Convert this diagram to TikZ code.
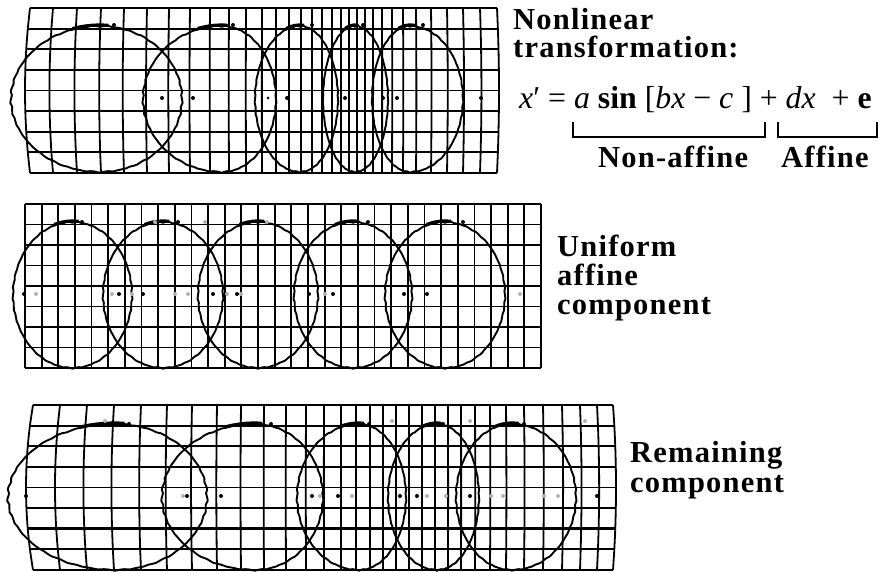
\documentclass[tikz,border=0pt]{standalone}
\usepackage{fontspec}
\setmainfont{Liberation Serif}
\newfontfamily\lblfont{Liberation Serif}[LetterSpace=4]
\usepackage{tikz}
\tikzset{
  gridline/.style={line width=1.8pt},
  thickrow/.style={line width=2.6pt},
  ring/.style={line width=1.9pt},
  topmark/.style={line width=3.2pt},
  dot/.style={circle, fill=black, minimum size=4pt, inner sep=0pt},
  greydot/.style={circle, fill=gray!60, minimum size=4pt, inner sep=0pt},
  lbl/.style={font=\lblfont\bfseries\fontsize{30.5}{30}\selectfont, anchor=base west, inner sep=0pt},
  eqn/.style={font=\fontsize{31.8}{32}\selectfont, anchor=base west, inner sep=0pt},
  brace/.style={line width=2.8pt}
}
% wobbly egg: left x, top x, right x, centre y, y radius
\newcommand{\eggring}[5]{%
  \draw[ring] plot[variable=\t, domain=0:357, samples=120, smooth cycle]
    ({#2+ifthenelse(cos(\t)<0,#2-#1,#3-#2)*cos(\t)*(1+0.006*sin(37*\t)+0.004*sin(43*\t))},
     {#4+#5*sin(\t)*(1+0.006*sin(41*\t)+0.004*sin(29*\t))});
  \draw[topmark] plot[variable=\t, domain=252:276, samples=7]
    ({#2+ifthenelse(cos(\t)<0,#2-#1,#3-#2)*cos(\t)}, {#4+#5*sin(\t)-1});
}

\begin{document}
\begin{tikzpicture}[x=1pt, y=-1pt]
  \useasboundingbox (0,0) rectangle (881,572);

  % nonlinear panel
  \foreach \x [count=\i from 0] in {30,53,77,101,124,147,169,190,210,229,246,262,276,289,301,312,
      322,332,341,349,357,365,373,382,392,403,416,431,447,463,480,497} {
    \pgfmathsetmacro{\bw}{-5*exp(-\i/3)+2*exp((\i-31)/3)}
    \draw[gridline] plot[variable=\t, domain=0:1, samples=9, smooth] ({\x+\bw*4*\t*(1-\t)}, {8+165*\t});
  }
  \foreach \j in {0,...,8} {
    \pgfmathsetmacro{\v}{\j/8}
    \draw[gridline] ({30-20*\v*(1-\v)}, {8+165*\v}) -- ({497+8*\v*(1-\v)}, {8+165*\v});
  }
  \eggring{11}{100}{182}{99}{73}
  \eggring{143}{222}{276}{99}{73}
  \eggring{255}{300}{338}{99}{73}
  \eggring{323}{355}{388}{99}{73}
  \eggring{372}{410}{463}{99}{73}
  \foreach \x in {114,233,312,363,423} \node[dot] at (\x,25) {};
  \foreach \x in {162,193,287,345,383,397,481} \node[dot] at (\x,98) {};
  \node[dot, minimum size=3pt] at (268,98) {};

  % uniform panel
  \foreach \i in {0,...,31}
    \draw[gridline] ({25+16.645*\i},204) -- ({25+16.645*\i},368);
  \foreach \j in {0,...,8}
    \draw[gridline] (25,{204+20.5*\j}) -- (541,{204+20.5*\j});
  \eggring{13}{72.5}{132}{295}{73}
  \eggring{103}{163}{223}{295}{73}
  \eggring{198}{258}{318}{295}{73}
  \eggring{294}{353}{412}{295}{73}
  \eggring{385}{445}{505}{295}{73}
  \foreach \x in {82,178,368,463} \node[dot] at (\x,222) {};
  \foreach \x in {155,205,267} \node[greydot] at (\x,222) {};
  \foreach \x in {24,119,143,213,237,309,333,404,427} \node[dot] at (\x,294) {};
  \foreach \x in {36,112,132,175,188,227,241,325,520} \node[greydot] at (\x,294) {};

  % remaining panel
  \foreach \x [count=\i from 0] in {33,60,87,114,141,167,192,217,241,264,286,306,324,341,356,370,
      383,396,409,422,435,448,461,475,490,506,524,543,562,580,597,613} {
    \pgfmathsetmacro{\bw}{-7*exp(-\i/3)+3*exp((\i-31)/3)}
    \draw[gridline] plot[variable=\t, domain=0:1, samples=9, smooth] ({\x+\bw*4*\t*(1-\t)}, {405+165*\t});
  }
  \foreach \j in {0,...,8} {
    \pgfmathsetmacro{\v}{\j/8}
    \draw[gridline] ({33-28*\v*(1-\v)}, {405+165*\v}) -- ({613+12*\v*(1-\v)}, {405+165*\v});
  }
  \foreach \j in {5,6} {
    \pgfmathsetmacro{\v}{\j/8}
    \draw[thickrow] ({33-28*\v*(1-\v)}, {405+165*\v}) -- ({613+12*\v*(1-\v)}, {405+165*\v});
  }
  \eggring{8}{115}{207}{497}{73}
  \eggring{162}{255}{323}{497}{73}
  \eggring{297}{359}{406}{497}{73}
  \eggring{388}{437}{479}{497}{73}
  \eggring{456}{512}{576}{497}{73}
  \foreach \x in {129,271,369,443,524} \node[dot] at (\x,424) {};
  \foreach \x in {105,392,470,585} \node[greydot] at (\x,421) {};
  \foreach \x in {26,187,221,312,338,400,417,470,597} \node[dot] at (\x,496) {};
  \foreach \x in {183,320,352,427,446,491,503,544,558} \node[greydot] at (\x,496) {};

  % labels
  \node[lbl] (nl1) at (513,30) {Nonlinear};
  \node[lbl] (nl2) at (513,58) {transformation:};
  \node[eqn] (eq) at (519,109)
    {\textit{x}′ = \textit{a} \textbf{sin} [\textit{bx} − \textit{c} ] + \textit{dx}\enspace + \textbf{e}};
  \coordinate (nab) at (573,122);
  \coordinate (nae) at (765,122);
  \coordinate (afb) at (778,122);
  \coordinate (afe) at (877,122);
  \draw[brace] (nab) -- ++(0,15) -| (nae);
  \draw[brace] (afb) -- ++(0,15) -| (afe);
  \node[lbl] (na) at (598,168) {Non-affine};
  \node[lbl] (af) at (781,168) {Affine};

  \node[lbl] (un1) at (557,256) {Uniform};
  \node[lbl] (un2) at (557,285) {affine};
  \node[lbl] (un3) at (557,314) {component};

  \node[lbl] (re1) at (630,462) {Remaining};
  \node[lbl] (re2) at (630,492) {component};
\end{tikzpicture}
\end{document}
